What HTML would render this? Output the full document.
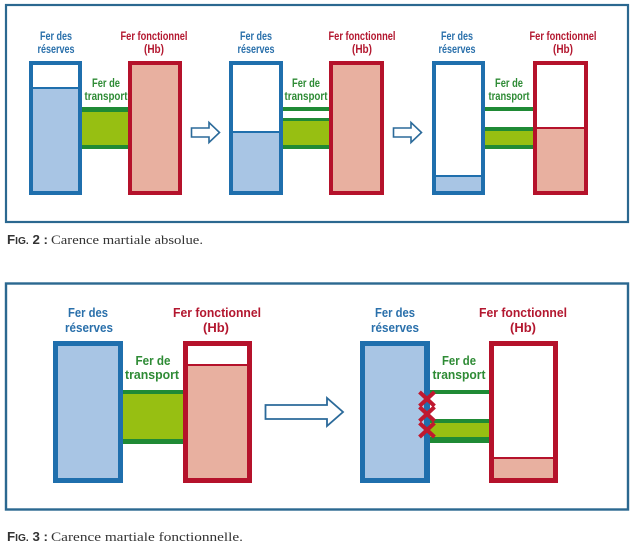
<!DOCTYPE html>
<html><head><meta charset="utf-8"><style>
html,body{margin:0;padding:0;background:#fff;}
svg{display:block;}
.b{font-family:"Liberation Sans",sans-serif;font-weight:bold;}
.s{font-family:"Liberation Serif",serif;}
</style></head><body>
<svg width="636" height="551" viewBox="0 0 636 551" xmlns="http://www.w3.org/2000/svg">
<rect width="636" height="551" fill="#fff"/>

<!-- ================= FIG 2 ================= -->
<rect x="6" y="5" width="622" height="217" fill="none" stroke="#2b6890" stroke-width="2.2"/>

<!-- Panel 1 -->
<rect x="29" y="61" width="53" height="134" fill="#1f6fad"/>
<rect x="33" y="65" width="45" height="22" fill="#fff"/>
<rect x="33" y="89" width="45" height="102" fill="#a8c5e4"/>
<rect x="82" y="107" width="46" height="42" fill="#1f8a35"/>
<rect x="82" y="112" width="46" height="33" fill="#97bf12"/>
<rect x="128" y="61" width="54" height="134" fill="#b5122b"/>
<rect x="132" y="65" width="46" height="126" fill="#e8b0a0"/>

<!-- arrow 1 -->
<path d="M191.5,128 H209 V122.5 L219.5,132.5 L209,142.5 V137 H191.5 Z" fill="#fff" stroke="#2b6a9a" stroke-width="1.6" stroke-linejoin="miter"/>

<!-- Panel 2 -->
<rect x="229" y="61" width="54" height="134" fill="#1f6fad"/>
<rect x="233" y="65" width="46" height="66" fill="#fff"/>
<rect x="233" y="133" width="46" height="58" fill="#a8c5e4"/>
<rect x="283" y="107" width="46" height="4" fill="#1f8a35"/>
<rect x="283" y="118" width="46" height="31" fill="#1f8a35"/>
<rect x="283" y="121" width="46" height="24" fill="#97bf12"/>
<rect x="329" y="61" width="55" height="134" fill="#b5122b"/>
<rect x="333" y="65" width="47" height="126" fill="#e8b0a0"/>

<!-- arrow 2 -->
<path d="M393.5,128 H411 V122.5 L421.5,132.5 L411,142.5 V137 H393.5 Z" fill="#fff" stroke="#2b6a9a" stroke-width="1.6"/>

<!-- Panel 3 -->
<rect x="432" y="61" width="53" height="134" fill="#1f6fad"/>
<rect x="436" y="65" width="45" height="110" fill="#fff"/>
<rect x="436" y="177" width="45" height="14" fill="#a8c5e4"/>
<rect x="485" y="107" width="48" height="4" fill="#1f8a35"/>
<rect x="485" y="127" width="48" height="22" fill="#1f8a35"/>
<rect x="485" y="131" width="48" height="14" fill="#97bf12"/>
<rect x="533" y="61" width="55" height="134" fill="#b5122b"/>
<rect x="537" y="65" width="47" height="62" fill="#fff"/>
<rect x="537" y="129" width="47" height="62" fill="#e8b0a0"/>

<!-- Fig2 labels -->
<g class="b" font-size="11.5" text-anchor="middle">
  <g fill="#2a70ab">
    <text x="56" y="40" textLength="32" lengthAdjust="spacingAndGlyphs">Fer des</text>
    <text x="56" y="53" textLength="37" lengthAdjust="spacingAndGlyphs">réserves</text>
    <text x="256" y="40" textLength="32" lengthAdjust="spacingAndGlyphs">Fer des</text>
    <text x="256" y="53" textLength="37" lengthAdjust="spacingAndGlyphs">réserves</text>
    <text x="457" y="40" textLength="32" lengthAdjust="spacingAndGlyphs">Fer des</text>
    <text x="457" y="53" textLength="37" lengthAdjust="spacingAndGlyphs">réserves</text>
  </g>
  <g fill="#b3172f">
    <text x="154" y="40" textLength="67" lengthAdjust="spacingAndGlyphs">Fer fonctionnel</text>
    <text x="154" y="53" textLength="20" lengthAdjust="spacingAndGlyphs">(Hb)</text>
    <text x="362" y="40" textLength="67" lengthAdjust="spacingAndGlyphs">Fer fonctionnel</text>
    <text x="362" y="53" textLength="20" lengthAdjust="spacingAndGlyphs">(Hb)</text>
    <text x="563" y="40" textLength="67" lengthAdjust="spacingAndGlyphs">Fer fonctionnel</text>
    <text x="563" y="53" textLength="20" lengthAdjust="spacingAndGlyphs">(Hb)</text>
  </g>
  <g fill="#2e8b35">
    <text x="106" y="87" textLength="28" lengthAdjust="spacingAndGlyphs">Fer de</text>
    <text x="106" y="100" textLength="43" lengthAdjust="spacingAndGlyphs">transport</text>
    <text x="306" y="87" textLength="28" lengthAdjust="spacingAndGlyphs">Fer de</text>
    <text x="306" y="100" textLength="43" lengthAdjust="spacingAndGlyphs">transport</text>
    <text x="509" y="87" textLength="28" lengthAdjust="spacingAndGlyphs">Fer de</text>
    <text x="509" y="100" textLength="41" lengthAdjust="spacingAndGlyphs">transport</text>
  </g>
</g>

<!-- Fig2 caption -->
<text class="b" x="7" y="244" font-size="13" fill="#333" textLength="41" lengthAdjust="spacingAndGlyphs">F<tspan font-size="10">IG.</tspan> 2 :</text>
<text class="s" x="51" y="244" font-size="13" fill="#333" textLength="152" lengthAdjust="spacingAndGlyphs">Carence martiale absolue.</text>

<!-- ================= FIG 3 ================= -->
<rect x="6" y="283.5" width="622" height="226" fill="none" stroke="#2b6890" stroke-width="2.4"/>

<!-- left pair -->
<rect x="53" y="341" width="70" height="142" fill="#1f6fad"/>
<rect x="58" y="346" width="60" height="132" fill="#a8c5e4"/>
<rect x="123" y="390" width="60" height="54" fill="#1f8a35"/>
<rect x="123" y="394" width="60" height="45" fill="#97bf12"/>
<rect x="183" y="341" width="69" height="142" fill="#b5122b"/>
<rect x="188" y="346" width="59" height="18" fill="#fff"/>
<rect x="188" y="366" width="59" height="112" fill="#e8b0a0"/>

<!-- big arrow -->
<path d="M265.5,405 H327 V398 L343,412 L327,426 V419 H265.5 Z" fill="#fff" stroke="#2b6a9a" stroke-width="1.8"/>

<!-- right pair -->
<rect x="360" y="341" width="70" height="142" fill="#1f6fad"/>
<rect x="365" y="346" width="59" height="132" fill="#a8c5e4"/>
<rect x="430" y="390" width="59" height="4" fill="#1f8a35"/>
<rect x="430" y="419" width="59" height="24" fill="#1f8a35"/>
<rect x="430" y="423" width="59" height="14" fill="#97bf12"/>
<rect x="489" y="341" width="69" height="142" fill="#b5122b"/>
<rect x="494" y="346" width="59" height="111" fill="#fff"/>
<rect x="494" y="459" width="59" height="19" fill="#e8b0a0"/>

<!-- red crosses -->
<g stroke="#c0182f" stroke-width="4" stroke-linecap="butt">
  <path d="M419.5,392 L434.5,406 M434.5,392 L419.5,406"/>
  <path d="M419.5,407 L434.5,421 M434.5,407 L419.5,421"/>
  <path d="M419.5,423 L434.5,437 M434.5,423 L419.5,437"/>
</g>

<!-- Fig3 labels -->
<g class="b" font-size="13" text-anchor="middle">
  <g fill="#2a70ab">
    <text x="88" y="317" textLength="40" lengthAdjust="spacingAndGlyphs">Fer des</text>
    <text x="89" y="332" textLength="48" lengthAdjust="spacingAndGlyphs">réserves</text>
    <text x="395" y="317" textLength="40" lengthAdjust="spacingAndGlyphs">Fer des</text>
    <text x="395" y="332" textLength="48" lengthAdjust="spacingAndGlyphs">réserves</text>
  </g>
  <g fill="#b3172f">
    <text x="217" y="317" textLength="88" lengthAdjust="spacingAndGlyphs">Fer fonctionnel</text>
    <text x="216" y="332" textLength="26" lengthAdjust="spacingAndGlyphs">(Hb)</text>
    <text x="523" y="317" textLength="88" lengthAdjust="spacingAndGlyphs">Fer fonctionnel</text>
    <text x="523" y="332" textLength="26" lengthAdjust="spacingAndGlyphs">(Hb)</text>
  </g>
  <g fill="#2e8b35">
    <text x="153" y="365" textLength="35" lengthAdjust="spacingAndGlyphs">Fer de</text>
    <text x="152" y="379" textLength="54" lengthAdjust="spacingAndGlyphs">transport</text>
    <text x="459" y="365" textLength="34" lengthAdjust="spacingAndGlyphs">Fer de</text>
    <text x="459" y="379" textLength="53" lengthAdjust="spacingAndGlyphs">transport</text>
  </g>
</g>

<!-- Fig3 caption -->
<text class="b" x="7" y="541" font-size="13" fill="#333" textLength="41" lengthAdjust="spacingAndGlyphs">F<tspan font-size="10">IG.</tspan> 3 :</text>
<text class="s" x="51" y="541" font-size="13" fill="#333" textLength="192" lengthAdjust="spacingAndGlyphs">Carence martiale fonctionnelle.</text>
</svg>
</body></html>
